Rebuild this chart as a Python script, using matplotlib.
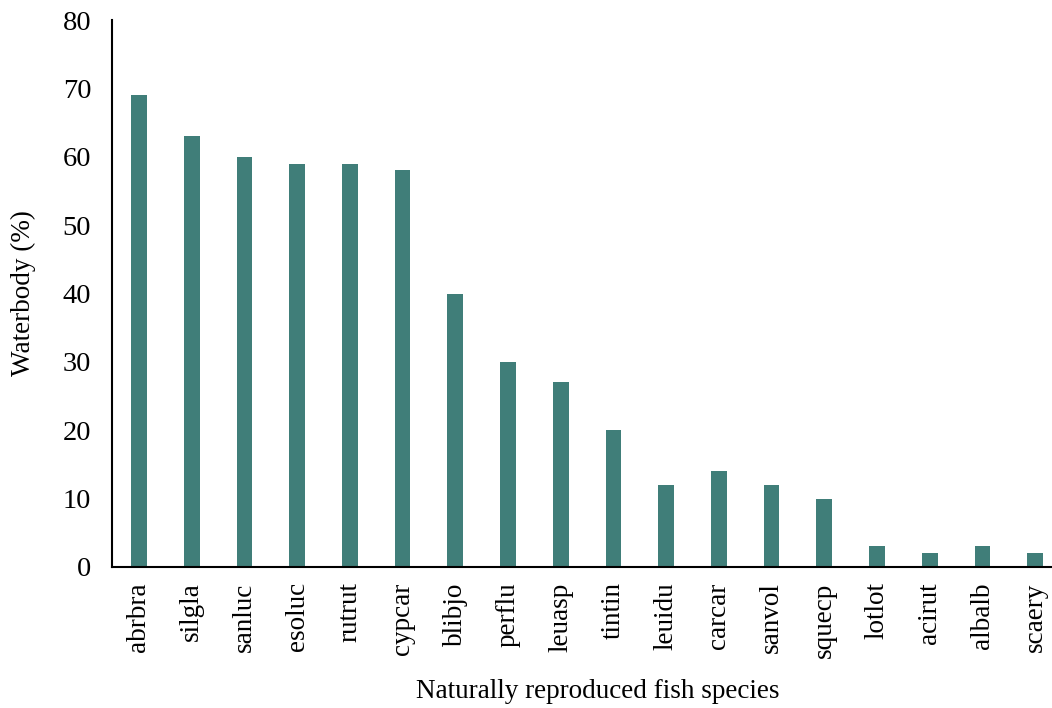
import matplotlib
matplotlib.use("Agg")
import matplotlib.pyplot as plt

species = ["abrbra", "silgla", "sanluc", "esoluc", "rutrut", "cypcar", "blibjo", "perflu",
           "leuasp", "tintin", "leuidu", "carcar", "sanvol", "squecp", "lotlot", "acirut",
           "albalb", "scaery"]
waterbody = [69, 63, 60, 59, 59, 58, 40, 30, 27, 20, 12, 14, 12, 10, 3, 2, 3, 2]
yticks = [0, 10, 20, 30, 40, 50, 60, 70, 80]

plt.rcParams['font.family'] = ['Liberation Serif', 'DejaVu Serif']

W, H = 1052, 708
fig = plt.figure(figsize=(W / 100, H / 100), dpi=100)
ax = fig.add_axes([112 / W, 141 / H, 940 / W, 547 / H])

x = list(range(len(species)))
ax.bar(x, waterbody, width=0.3, color="#407e79")

ax.set_xlim(-0.512, 17.32)
ax.set_ylim(0, 80)
ax.set_yticks(yticks)
ax.set_xticks(x)
ax.set_xticklabels(species, rotation=90)
ax.tick_params(axis='y', length=0, labelsize=20.5, pad=15)
ax.tick_params(axis='x', length=0, labelsize=19.5, pad=11)

for s in ["top", "right"]:
    ax.spines[s].set_visible(False)
for s in ["left", "bottom"]:
    ax.spines[s].set_linewidth(1.5)

# axis titles placed in figure pixels
fig.text(23 / W, 1 - 293 / H, "Waterbody (%)", rotation=90, fontsize=19.5,
         ha="center", va="center")
fig.text(598 / W, 1 - 692 / H, "Naturally reproduced fish species", fontsize=19.5,
         ha="center", va="center")

fig.savefig("out.png", dpi=100)
